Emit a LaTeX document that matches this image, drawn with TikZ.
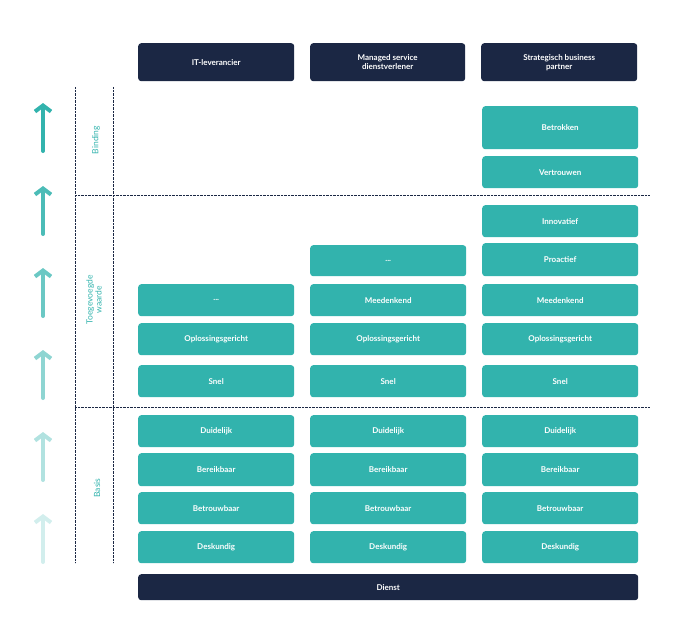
\documentclass[tikz,border=0pt]{standalone}
\usepackage{fontspec}
\setmainfont{Lato}
\usetikzlibrary{positioning,arrows.meta}
\definecolor{navy}{HTML}{1B2744}
\definecolor{teal}{HTML}{32B3AD}
\tikzset{
  box/.style={draw=none, fill=teal, rounded corners=3pt, text=white, font=\bfseries\fontsize{8}{9}\selectfont, inner sep=0pt},
  head/.style={box, fill=navy, align=center},
  sep/.style={densely dotted, navy, thin},
  lvl/.style={teal, font=\fontsize{8.5}{9}\selectfont, rotate=90, align=center},
  up/.style={line width=4pt, line cap=round, -{Straight Barb[length=6pt,width=16pt,line width=4pt]}}
}
\newcommand{\cell}[5]{% name, x, y1, y2, text
  \node[box, minimum width=156pt, minimum height={#4-#3}, anchor=north west] (#1) at (#2,#3) {#5};}
\begin{document}
\begin{tikzpicture}[x=1pt,y=-1pt]
\useasboundingbox (0,0) rectangle (692,629);
% headers
\node[head, minimum width=156pt, minimum height=38pt, anchor=north west] (hITL) at (138,43) {IT-leverancier};
\node[head, minimum width=155pt, minimum height=38pt, anchor=north west] (hMSD) at (310,43) {Managed service\\dienstverlener};
\node[head, minimum width=156pt, minimum height=38pt, anchor=north west] (hSBP) at (481,43) {Strategisch business\\partner};
% column 1
\cell{aDots}{138}{284}{316}{...}
\cell{aOpl}{138}{323}{355}{Oplossingsgericht}
\cell{aSnel}{138}{365}{397}{Snel}
\cell{aDui}{138}{415}{447}{Duidelijk}
\cell{aBer}{138}{453}{486}{Bereikbaar}
\cell{aBtr}{138}{492}{524}{Betrouwbaar}
\cell{aDes}{138}{531}{563}{Deskundig}
% column 2
\cell{bDots}{310}{245}{276}{...}
\cell{bMee}{310}{284}{316}{Meedenkend}
\cell{bOpl}{310}{323}{355}{Oplossingsgericht}
\cell{bSnel}{310}{365}{397}{Snel}
\cell{bDui}{310}{415}{447}{Duidelijk}
\cell{bBer}{310}{453}{486}{Bereikbaar}
\cell{bBtr}{310}{492}{524}{Betrouwbaar}
\cell{bDes}{310}{531}{563}{Deskundig}
% column 3
\cell{cBet}{482}{106}{149}{Betrokken}
\cell{cVer}{482}{156}{188}{Vertrouwen}
\cell{cInn}{482}{205}{237}{Innovatief}
\cell{cPro}{482}{243}{276}{Proactief}
\cell{cMee}{482}{284}{316}{Meedenkend}
\cell{cOpl}{482}{323}{355}{Oplossingsgericht}
\cell{cSnel}{482}{365}{397}{Snel}
\cell{cDui}{482}{415}{447}{Duidelijk}
\cell{cBer}{482}{453}{486}{Bereikbaar}
\cell{cBtr}{482}{492}{524}{Betrouwbaar}
\cell{cDes}{482}{531}{563}{Deskundig}
% base
\node[box, fill=navy, minimum width=500pt, minimum height=26pt, anchor=north west] (dienst) at (138,574) {Dienst};
% separators
\draw[sep] (75,87) -- (75,563);
\draw[sep] (113,87) -- (113,563);
\draw[sep] (75,195) -- (650,195);
\draw[sep] (75,407) -- (650,407);
% levels
\node[lvl] (lBind) at (96,140) {Binding};
\node[lvl] (lToe) at (94,300) {Toegevoegde\\waarde};
\node[lvl] (lBas) at (97,488) {Basis};
% arrows
\foreach \y/\s in {103/100, 186/88, 268/72, 350/55, 432/38, 514/22}
  \draw[up, teal!\s!white] (43,\y+48) -- (43,\y);
\end{tikzpicture}
\end{document}
